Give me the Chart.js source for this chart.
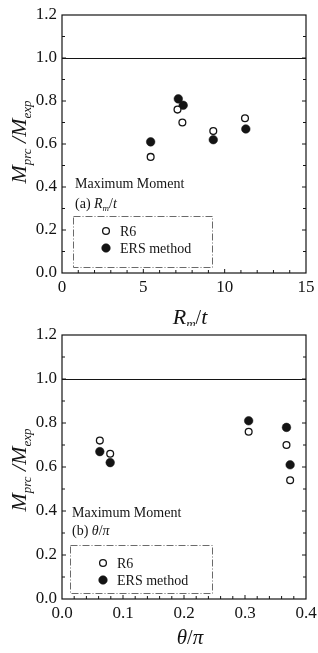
<!DOCTYPE html>
<html>
<head>
<meta charset="utf-8">
<script src="https://cdn.jsdelivr.net/npm/chart.js@4.4.1/dist/chart.umd.min.js"></script>
<style>
    html, body { margin: 0; padding: 0; background: #fff; }
    .wrap { position: relative; width: 318px; }
</style>
</head>
<body>
<div class="wrap" style="height:326px"><canvas id="chart-rmt"></canvas></div>
<div class="wrap" style="height:327px"><canvas id="chart-theta"></canvas></div>
<script>
// (a) against R_m/t
const rmtR6 = [5.45, 7.1, 7.4, 9.3, 11.25];
const ratioR6A = [0.54, 0.76, 0.70, 0.66, 0.72];
const rmtERS = [5.45, 7.15, 7.45, 9.3, 11.3];
const ratioERSA = [0.61, 0.81, 0.78, 0.62, 0.67];

// (b) against theta/pi
const thetaR6 = [0.062, 0.079, 0.306, 0.368, 0.374];
const ratioR6B = [0.72, 0.66, 0.76, 0.70, 0.54];
const thetaERS = [0.062, 0.079, 0.306, 0.368, 0.374];
const ratioERSB = [0.67, 0.62, 0.81, 0.78, 0.61];

const seriesNames = ['R6', 'ERS method'];
const yTicks = [0.0, 0.2, 0.4, 0.6, 0.8, 1.0, 1.2];
const xTicksA = [0, 5, 10, 15];
const xTicksB = [0.0, 0.1, 0.2, 0.3, 0.4];
const limitLine = 1.0;

const SERIF = "'Liberation Serif', 'Times New Roman', serif";
const INK = '#141414';

function toPoints(xs, ys) {
    return xs.map((x, i) => ({ x: x, y: ys[i] }));
}

// draw a run of text pieces [text, size, italic, dy] one after another
function drawRich(ctx, parts, x, y, align) {
    const font = p => (p[2] ? 'italic ' : '') + p[1] + 'px ' + SERIF;
    let total = 0;
    parts.forEach(p => { ctx.font = font(p); total += ctx.measureText(p[0]).width; });
    let cx = align === 'center' ? x - total / 2 : x;
    ctx.textAlign = 'left';
    ctx.textBaseline = 'alphabetic';
    parts.forEach(p => {
        ctx.font = font(p);
        ctx.fillText(p[0], cx, y + (p[3] || 0));
        cx += ctx.measureText(p[0]).width;
    });
}

// box, the 1.0 line and small inward ticks
const framePlugin = {
    id: 'frame',
    afterDraw(chart, args, opts) {
        const { ctx, chartArea: a, scales: { x, y } } = chart;
        ctx.save();
        ctx.strokeStyle = INK;
        ctx.lineWidth = 1.2;
        ctx.strokeRect(a.left, a.top, a.right - a.left, a.bottom - a.top);
        const yl = Math.round(y.getPixelForValue(limitLine)) + 0.5;
        ctx.beginPath();
        ctx.moveTo(a.left, yl);
        ctx.lineTo(a.right, yl);
        ctx.stroke();

        ctx.lineWidth = 1;
        ctx.beginPath();
        const ny = Math.round((y.max - y.min) / opts.yStep);
        for (let i = 1; i < ny; i++) {
            const py = y.getPixelForValue(y.min + i * opts.yStep);
            const len = i % 2 === 0 ? 4 : 3;
            ctx.moveTo(a.left, py); ctx.lineTo(a.left + len, py);
            ctx.moveTo(a.right, py); ctx.lineTo(a.right - len, py);
        }
        const nx = Math.round((x.max - x.min) / opts.xStep);
        for (let i = 1; i < nx; i++) {
            const px = x.getPixelForValue(x.min + i * opts.xStep);
            const len = i % opts.xMajorEvery === 0 ? 4 : 3;
            ctx.moveTo(px, a.bottom); ctx.lineTo(px, a.bottom - len);
        }
        ctx.stroke();
        ctx.restore();
    }
};

// legend box drawn inside the plot
const boxLegendPlugin = {
    id: 'boxLegend',
    afterDraw(chart, args, opts) {
        const { ctx, chartArea: a } = chart;
        const left = a.left + opts.left, top = a.bottom - opts.up;
        ctx.save();
        ctx.strokeStyle = '#6a6a6a';
        ctx.lineWidth = 1;
        ctx.setLineDash([7, 2, 1, 2]);
        ctx.strokeRect(left + 0.5, top + 0.5, opts.width, opts.height);
        ctx.setLineDash([]);
        chart.data.datasets.forEach((ds, i) => {
            const cy = top + opts.rows[i];
            ctx.beginPath();
            ctx.arc(left + 33, cy, ds.pointRadius, 0, Math.PI * 2);
            ctx.fillStyle = ds.backgroundColor;
            ctx.fill();
            ctx.lineWidth = ds.borderWidth;
            ctx.strokeStyle = ds.borderColor;
            ctx.stroke();
            ctx.fillStyle = INK;
            ctx.font = '14px ' + SERIF;
            ctx.textAlign = 'left';
            ctx.textBaseline = 'middle';
            ctx.fillText(ds.label, left + 47, cy + 1);
        });
        ctx.restore();
    }
};

// titles and notes with sub-scripts
const richTextPlugin = {
    id: 'richText',
    afterDraw(chart, args, opts) {
        const ctx = chart.ctx;
        ctx.save();
        ctx.fillStyle = INK;
        opts.items.forEach(it => {
            ctx.save();
            ctx.translate(it.x, it.y);
            if (it.rotate) ctx.rotate(it.rotate);
            drawRich(ctx, it.parts, 0, 0, it.align);
            ctx.restore();
        });
        ctx.restore();
    }
};

function makeScatter(id, xs1, ys1, xs2, ys2, xMax, xTicks, xFmt, extra) {
    const ctx = document.getElementById(id).getContext('2d');
    return new Chart(ctx, {
        type: 'scatter',
        data: {
            datasets: [{
                label: seriesNames[0],
                data: toPoints(xs1, ys1),
                pointRadius: 3.4,
                backgroundColor: '#ffffff',
                borderColor: INK,
                borderWidth: 1.3,
            }, {
                label: seriesNames[1],
                data: toPoints(xs2, ys2),
                pointRadius: 4.3,
                backgroundColor: INK,
                borderColor: INK,
                borderWidth: 0.5,
            }]
        },
        options: {
            responsive: true,
            maintainAspectRatio: false,
            animation: false,
            events: [],
            layout: { padding: { left: 0, right: 12, top: extra.top, bottom: 0 } },
            scales: {
                x: {
                    type: 'linear',
                    min: 0,
                    max: xMax,
                    grid: { display: false, drawTicks: false },
                    border: { display: false },
                    afterBuildTicks: s => { s.ticks = xTicks.map(v => ({ value: v })); },
                    afterFit: s => { s.height = extra.xHeight; s.paddingLeft = 0; s.paddingRight = 0; },
                    ticks: {
                        color: INK,
                        padding: 4,
                        font: { family: SERIF, size: 17 },
                        callback: xFmt
                    }
                },
                y: {
                    min: 0,
                    max: 1.2,
                    grid: { display: false, drawTicks: false },
                    border: { display: false },
                    afterBuildTicks: s => { s.ticks = yTicks.map(v => ({ value: v })); },
                    afterFit: s => { s.width = 62; s.paddingTop = 0; s.paddingBottom = 0; },
                    ticks: {
                        color: INK,
                        padding: 5,
                        font: { family: SERIF, size: 17 },
                        callback: v => Number(v).toFixed(1)
                    }
                }
            },
            plugins: {
                legend: { display: false },
                tooltip: { enabled: false },
                frame: { yStep: 0.1, xStep: extra.xStep, xMajorEvery: extra.xMajorEvery },
                boxLegend: extra.legend,
                richText: { items: extra.texts }
            }
        },
        plugins: [framePlugin, boxLegendPlugin, richTextPlugin]
    });
}

const yTitle = [
    ['M', 22, true, 0], ['prc', 13, true, 5], [' /', 22, true, 0],
    ['M', 22, true, 0], ['exp', 13, true, 5]
];

makeScatter('chart-rmt', rmtR6, ratioR6A, rmtERS, ratioERSA, 15, xTicksA,
    v => String(v), {
        top: 15, xHeight: 53, xStep: 1, xMajorEvery: 5,
        legend: { left: 11, up: 57, width: 139, height: 51, rows: [15, 32] },
        texts: [
            { x: 26, y: 142, rotate: -Math.PI / 2, align: 'center', parts: yTitle },
            { x: 190, y: 324, align: 'center', parts: [['R', 22, true, 0], ['m', 13, true, 4], ['/', 20, false, 0], ['t', 22, true, 0]] },
            { x: 75, y: 188, parts: [['Maximum Moment', 14, false, 0]] },
            { x: 75, y: 208, parts: [['(a) ', 14, false, 0], ['R', 14, true, 0], ['m', 9, true, 3], ['/', 14, false, 0], ['t', 14, true, 0]] }
        ]
    });

makeScatter('chart-theta', thetaR6, ratioR6B, thetaERS, ratioERSB, 0.4, xTicksB,
    v => Number(v).toFixed(1), {
        top: 9, xHeight: 54, xStep: 0.02, xMajorEvery: 5,
        legend: { left: 8, up: 54, width: 142, height: 48, rows: [18, 35] },
        texts: [
            { x: 26, y: 144, rotate: -Math.PI / 2, align: 'center', parts: yTitle },
            { x: 190, y: 318, align: 'center', parts: [['θ', 21, true, 0], ['/', 20, false, 0], ['π', 21, true, 0]] },
            { x: 72, y: 191, parts: [['Maximum Moment', 14, false, 0]] },
            { x: 72, y: 209, parts: [['(b) ', 14, false, 0], ['θ', 14, true, 0], ['/', 14, false, 0], ['π', 14, true, 0]] }
        ]
    });
</script>
</body>
</html>
